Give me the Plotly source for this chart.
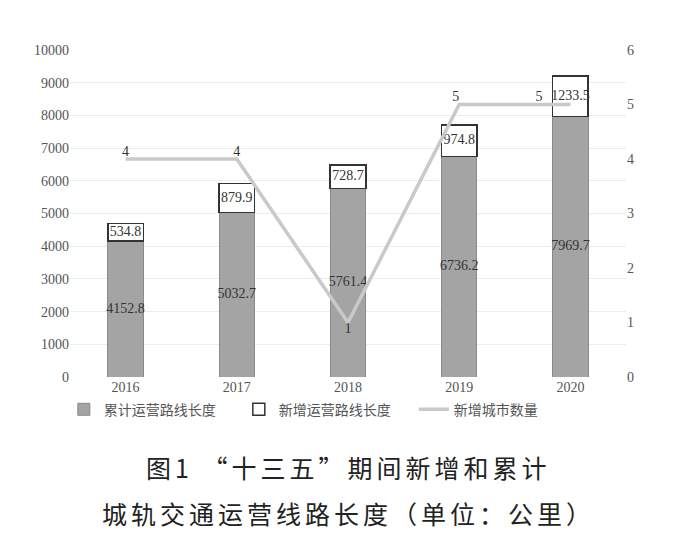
import plotly.graph_objects as go

years = ["2016", "2017", "2018", "2019", "2020"]
cumulative_km = [4152.8, 5032.7, 5761.4, 6736.2, 7969.7]
new_km = [534.8, 879.9, 728.7, 974.8, 1233.5]
new_cities = [4, 4, 1, 5, 5]
city_label_pos = ["top center", "top center", "bottom center", "top left", "top left"]

num_font = "Liberation Serif, Noto Sans CJK SC, serif"
cjk_font = "Noto Sans CJK SC, Liberation Serif, serif"
label_font = dict(family=num_font, size=14, color="#333333")

# last city label sits left of the 2020 box in the original
city_text = [str(v) for v in new_cities]
city_text[-1] = city_text[-1] + "\u00a0" * 8

fig = go.Figure()

fig.add_trace(go.Bar(
    x=years, y=cumulative_km,
    name="累计运营路线长度",
    width=0.32,
    marker=dict(color="#a4a4a4", line=dict(color="#8a8a8a", width=1)),
    textposition="none",
))

fig.add_trace(go.Bar(
    x=years, y=new_km,
    name="新增运营路线长度",
    width=0.32,
    marker=dict(color="white", line=dict(color="#333333", width=1.5)),
    textposition="none",
))

fig.add_trace(go.Scatter(
    x=years, y=new_cities,
    name="新增城市数量",
    yaxis="y2",
    mode="lines+text",
    line=dict(color="#c9c9c9", width=3.5),
    text=city_text,
    textposition=city_label_pos,
    textfont=label_font,
))

# value labels centred in each bar segment
fig.add_trace(go.Scatter(
    x=years, y=[c / 2 for c in cumulative_km],
    mode="text", text=[f"{v:.1f}" for v in cumulative_km],
    textfont=label_font, showlegend=False, hoverinfo="skip",
))
fig.add_trace(go.Scatter(
    x=years, y=[c + n / 2 for c, n in zip(cumulative_km, new_km)],
    mode="text", text=[f"{v:.1f}" for v in new_km],
    textfont=label_font, showlegend=False, hoverinfo="skip",
))

fig.update_layout(
    width=692, height=549,
    barmode="stack",
    paper_bgcolor="white", plot_bgcolor="white",
    margin=dict(l=62, r=74, t=42, b=180, autoexpand=False),
    font=dict(family=num_font, color="#555555", size=13),
    xaxis=dict(showgrid=False, showline=False, ticks="", automargin=False,
               tickfont=dict(family=num_font, size=14, color="#555555")),
    yaxis=dict(range=[0, 10000], dtick=1000, tickformat="d", showgrid=True,
               gridcolor="#ececec", zeroline=False, showline=False, automargin=False,
               tickfont=dict(family=num_font, size=14, color="#555555")),
    yaxis2=dict(range=[0, 6], dtick=1, overlaying="y", side="right", automargin=False,
                showgrid=False, zeroline=False, showline=False,
                tickfont=dict(family=num_font, size=14, color="#555555")),
    showlegend=True,
    legend=dict(orientation="h", xref="container", x=0.46, xanchor="center",
                y=-0.1, yanchor="middle",
                traceorder="normal", bgcolor="rgba(0,0,0,0)",
                entrywidth=130, entrywidthmode="pixels",
                font=dict(family=cjk_font, size=14, color="#555555")),
    annotations=[
        dict(text="<span style='letter-spacing:4px'>图1 “十三五”期间新增和累计</span>",
             xref="paper", yref="paper",
             x=0.5, y=-0.275, xanchor="center", yanchor="middle", showarrow=False,
             font=dict(family=cjk_font, size=25, color="#222222")),
        dict(text="<span style='letter-spacing:4px'>城轨交通运营线路长度（单位：公里）</span>",
             xref="paper", yref="paper",
             x=0.5, y=-0.415, xanchor="center", yanchor="middle", showarrow=False,
             font=dict(family=cjk_font, size=25, color="#222222")),
    ],
)

fig.write_html("out.html")
